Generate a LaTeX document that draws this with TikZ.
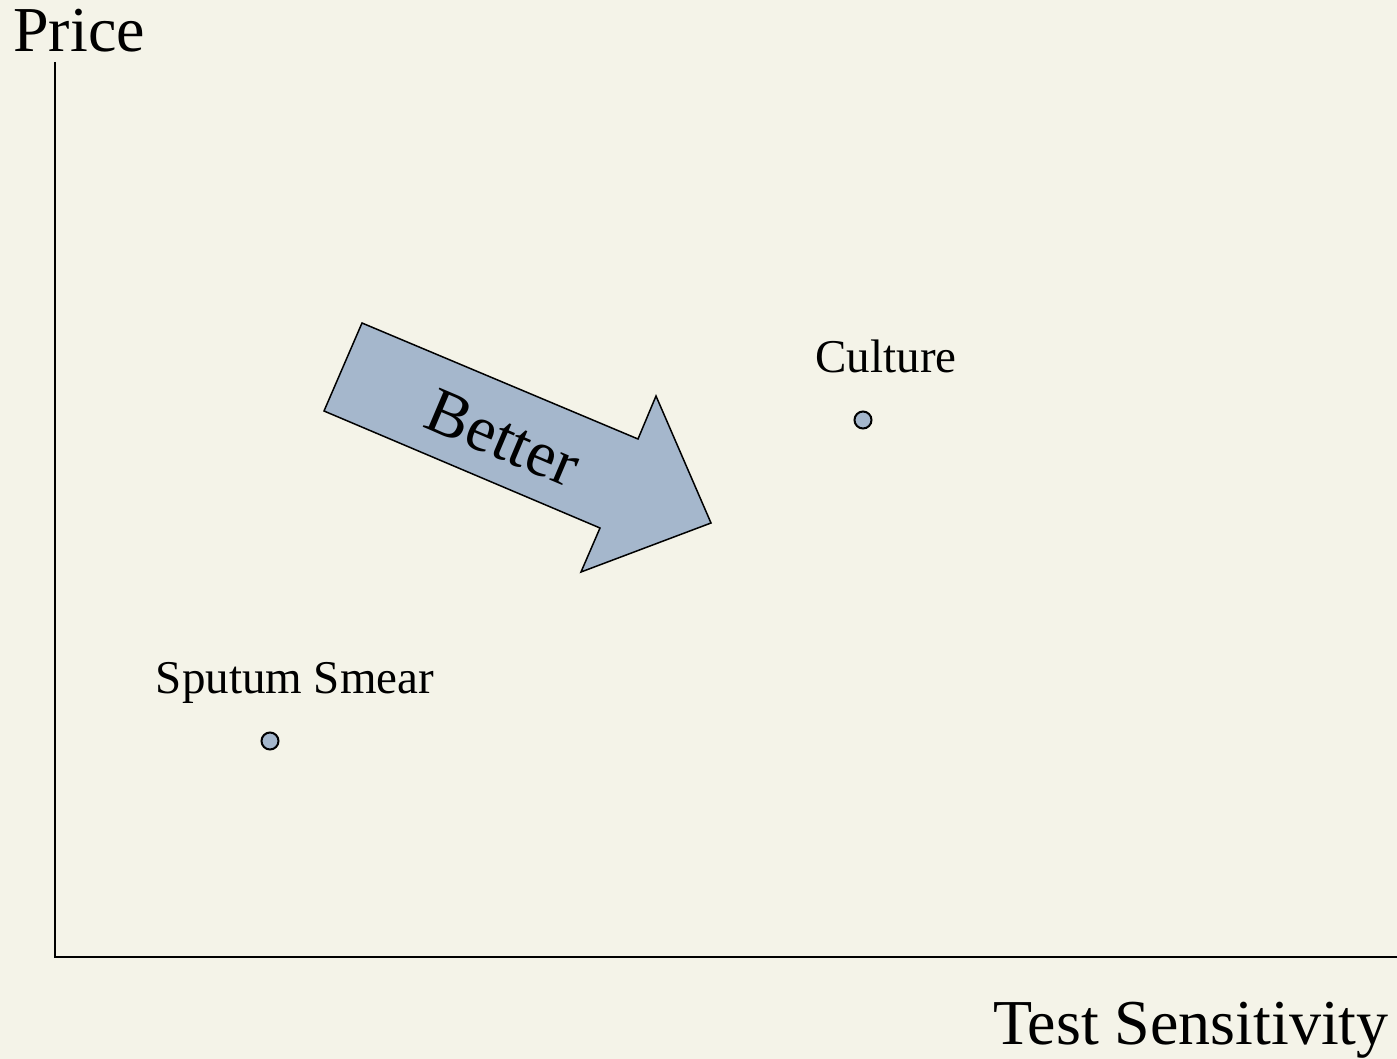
\documentclass[tikz,border=0pt]{standalone}
\usepackage{fontspec}
\setmainfont{Liberation Serif}
\usetikzlibrary{positioning}
\definecolor{paper}{HTML}{F4F3E8}
\definecolor{steel}{HTML}{A5B7CC}

\begin{document}
\begin{tikzpicture}[
		x=0.5pt, y=-0.5pt,
		node distance = 0pt,
		AxisStyle/.style={draw, line width=1pt},
		DotStyle/.style={circle, draw, fill=steel, line width=1pt, minimum size=8.5pt, inner sep=0pt},
		TagStyle/.style={font=\fontsize{23.5pt}{26pt}\selectfont, inner sep=0pt},
		TitleStyle/.style={font=\fontsize{32pt}{34pt}\selectfont, inner sep=0pt}]
	\fill[paper] (0,0) rectangle (1397,1059);
	\useasboundingbox (0,0) rectangle (1397,1059);
	% axes
	\coordinate (o) at (55,957);
	\coordinate (ytop) at (55,62);
	\coordinate (xend) at (1397,957);
	\draw[AxisStyle] (ytop) -- (o) -- (xend);
	\node[TitleStyle, anchor=base west] (price) at (13,52) {Price};
	\node[TitleStyle, anchor=base east] (sens) at (1389,1044) {Test Sensitivity};
	% the two tests
	\node[DotStyle] (culture) at (863,420) {};
	\node[DotStyle] (smear) at (270,741) {};
	\node[TagStyle, above=19pt of culture, anchor=base, xshift=11.5pt] (culturetag) {Culture};
	\node[TagStyle, above=19pt of smear, anchor=base, xshift=12.5pt] (smeartag) {Sputum Smear};
	% big arrow
	\draw[fill=steel, line width=0.75pt, line join=miter]
		(362,323) -- (638,439) -- (656,396) -- (711,523)
		-- (581,572) -- (600,528) -- (324,411) -- cycle;
	\node[font=\fontsize{32.5pt}{35pt}\selectfont, rotate=-23, inner sep=0pt] (better) at (503,438) {Better};
\end{tikzpicture}
\end{document}
